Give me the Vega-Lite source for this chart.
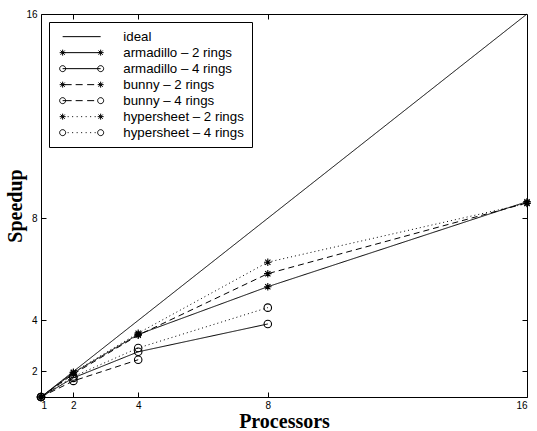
{
  "$schema": "https://vega.github.io/schema/vega-lite/v6.json",
  "width": 486,
  "height": 383,
  "autosize": "none",
  "padding": {"left": 41, "top": 14, "right": 10, "bottom": 34},
  "background": "white",
  "data": {
    "values": [
      {"series": "ideal", "p": 1, "s": 1},
      {"series": "ideal", "p": 16, "s": 16},
      {"series": "armadillo – 2 rings", "p": 1, "s": 1},
      {"series": "armadillo – 2 rings", "p": 2, "s": 1.95},
      {"series": "armadillo – 2 rings", "p": 4, "s": 3.45},
      {"series": "armadillo – 2 rings", "p": 8, "s": 5.32},
      {"series": "armadillo – 2 rings", "p": 16, "s": 8.65},
      {"series": "armadillo – 4 rings", "p": 1, "s": 1},
      {"series": "armadillo – 4 rings", "p": 2, "s": 1.75},
      {"series": "armadillo – 4 rings", "p": 4, "s": 2.77},
      {"series": "armadillo – 4 rings", "p": 8, "s": 3.86},
      {"series": "bunny – 2 rings", "p": 1, "s": 1},
      {"series": "bunny – 2 rings", "p": 2, "s": 1.9},
      {"series": "bunny – 2 rings", "p": 4, "s": 3.42},
      {"series": "bunny – 2 rings", "p": 8, "s": 5.83},
      {"series": "bunny – 2 rings", "p": 16, "s": 8.6},
      {"series": "bunny – 4 rings", "p": 1, "s": 1},
      {"series": "bunny – 4 rings", "p": 2, "s": 1.63},
      {"series": "bunny – 4 rings", "p": 4, "s": 2.46},
      {"series": "hypersheet – 2 rings", "p": 1, "s": 1},
      {"series": "hypersheet – 2 rings", "p": 2, "s": 1.97},
      {"series": "hypersheet – 2 rings", "p": 4, "s": 3.5},
      {"series": "hypersheet – 2 rings", "p": 8, "s": 6.28},
      {"series": "hypersheet – 2 rings", "p": 16, "s": 8.58},
      {"series": "hypersheet – 4 rings", "p": 1, "s": 1},
      {"series": "hypersheet – 4 rings", "p": 2, "s": 1.8},
      {"series": "hypersheet – 4 rings", "p": 4, "s": 2.92},
      {"series": "hypersheet – 4 rings", "p": 8, "s": 4.5}
    ]
  },
  "layer": [
    {
      "mark": {"type": "line", "color": "black", "strokeWidth": 1},
      "encoding": {
        "x": {
          "field": "p", "type": "quantitative",
          "scale": {"domain": [1, 16], "nice": false, "zero": false},
          "axis": {"orient": "bottom", "values": [1, 2, 4, 8, 16], "title": "Processors", "labelPadding": 8, "titlePadding": 1}
        },
        "y": {
          "field": "s", "type": "quantitative",
          "scale": {"domain": [1, 16], "nice": false, "zero": false},
          "axis": {"orient": "left", "values": [2, 4, 8, 16], "title": "Speedup", "labelPadding": 9, "titlePadding": 0}
        },
        "detail": {"field": "series"},
        "strokeDash": {
          "field": "series", "type": "nominal",
          "scale": {
            "domain": ["ideal", "armadillo – 2 rings", "armadillo – 4 rings", "bunny – 2 rings", "bunny – 4 rings", "hypersheet – 2 rings", "hypersheet – 4 rings"],
            "range": [[1, 0], [1, 0], [1, 0], [6, 4], [6, 4], [1, 3], [1, 3]]
          },
          "legend": null
        }
      }
    },
    {
      "transform": [{"filter": "datum.series !== 'ideal'"}],
      "mark": {"type": "point", "filled": false, "color": "black", "strokeWidth": 1.1, "size": 56, "opacity": 1},
      "encoding": {
        "x": {
          "field": "p", "type": "quantitative",
          "axis": {"orient": "top", "values": [2, 4, 8], "labels": false, "title": null}
        },
        "y": {
          "field": "s", "type": "quantitative",
          "axis": {"orient": "right", "values": [2, 4, 8], "labels": false, "title": null}
        },
        "shape": {
          "field": "series", "type": "nominal",
          "scale": {
            "domain": ["armadillo – 2 rings", "armadillo – 4 rings", "bunny – 2 rings", "bunny – 4 rings", "hypersheet – 2 rings", "hypersheet – 4 rings"],
            "range": [
              "M-1,0L1,0M0,-1L0,1M-0.7,-0.7L0.7,0.7M-0.7,0.7L0.7,-0.7",
              "circle",
              "M-1,0L1,0M0,-1L0,1M-0.7,-0.7L0.7,0.7M-0.7,0.7L0.7,-0.7",
              "circle",
              "M-1,0L1,0M0,-1L0,1M-0.7,-0.7L0.7,0.7M-0.7,0.7L0.7,-0.7",
              "circle"
            ]
          },
          "legend": null
        }
      }
    },
    {
      "transform": [{"filter": "datum.p < 0"}],
      "mark": {"type": "point", "filled": false, "color": "black", "strokeWidth": 1},
      "encoding": {
        "shape": {
          "field": "series", "type": "nominal",
          "scale": {
            "domain": ["ideal", "armadillo – 2 rings", "armadillo – 4 rings", "bunny – 2 rings", "bunny – 4 rings", "hypersheet – 2 rings", "hypersheet – 4 rings"],
            "range": [
              "M-3.167,0L3.167,0",
              "M-3.167,0L3.167,0M-3.667,0L-2.667,0M-3.167,-0.5L-3.167,0.5M-3.521,-0.354L-2.813,0.354M-3.521,0.354L-2.813,-0.354M2.667,0L3.667,0M3.167,-0.5L3.167,0.5M2.813,-0.354L3.521,0.354M2.813,0.354L3.521,-0.354",
              "M-3.167,0L3.167,0M-2.667,0A0.5,0.5,0,1,1,-3.667,0A0.5,0.5,0,1,1,-2.667,0M3.667,0A0.5,0.5,0,1,1,2.667,0A0.5,0.5,0,1,1,3.667,0",
              "M-3.167,0L-1.667,0M-1,0L0.167,0M0.917,0L2.083,0M2.833,0L3.167,0M-3.667,0L-2.667,0M-3.167,-0.5L-3.167,0.5M-3.521,-0.354L-2.813,0.354M-3.521,0.354L-2.813,-0.354M2.667,0L3.667,0M3.167,-0.5L3.167,0.5M2.813,-0.354L3.521,0.354M2.813,0.354L3.521,-0.354",
              "M-3.167,0L-1.667,0M-1,0L0.167,0M0.917,0L2.083,0M-2.667,0A0.5,0.5,0,1,1,-3.667,0A0.5,0.5,0,1,1,-2.667,0M3.667,0A0.5,0.5,0,1,1,2.667,0A0.5,0.5,0,1,1,3.667,0",
              "M-2.333,0L-2.167,0M-1.583,0L-1.417,0M-0.833,0L-0.667,0M-0.083,0L0.083,0M0.667,0L0.833,0M1.417,0L1.583,0M2.167,0L2.333,0M-3.667,0L-2.667,0M-3.167,-0.5L-3.167,0.5M-3.521,-0.354L-2.813,0.354M-3.521,0.354L-2.813,-0.354M2.667,0L3.667,0M3.167,-0.5L3.167,0.5M2.813,-0.354L3.521,0.354M2.813,0.354L3.521,-0.354",
              "M-2.333,0L-2.167,0M-1.583,0L-1.417,0M-0.833,0L-0.667,0M-0.083,0L0.083,0M0.667,0L0.833,0M1.417,0L1.583,0M2.167,0L2.333,0M-2.667,0A0.5,0.5,0,1,1,-3.667,0A0.5,0.5,0,1,1,-2.667,0M3.667,0A0.5,0.5,0,1,1,2.667,0A0.5,0.5,0,1,1,3.667,0"
            ]
          },
          "legend": {
            "title": null,
            "orient": "top-left",
            "offset": 8,
            "padding": 8,
            "strokeColor": "black",
            "fillColor": "white",
            "cornerRadius": 0,
            "symbolSize": 144,
            "symbolOffset": 18,
            "symbolStrokeWidth": 1,
            "symbolStrokeColor": "black",
            "symbolFillColor": "transparent",
            "symbolOpacity": 1,
            "labelFont": "Liberation Sans",
            "labelFontSize": 13.3,
            "labelColor": "black",
            "labelOffset": 35,
            "rowPadding": 2,
            "labelLimit": 300
          }
        }
      }
    }
  ],
  "resolve": {
    "axis": {"x": "independent", "y": "independent"},
    "scale": {"shape": "independent"}
  },
  "config": {
    "view": {"stroke": "black", "strokeWidth": 1},
    "axis": {
      "grid": false,
      "domain": false,
      "ticks": true,
      "tickSize": -5,
      "tickColor": "black",
      "tickWidth": 1,
      "labelColor": "black",
      "labelFont": "Liberation Sans",
      "labelFontSize": 10,
      "titleFont": "Liberation Serif",
      "titleFontWeight": "bold",
      "titleFontSize": 20,
      "titleColor": "black"
    }
  }
}
